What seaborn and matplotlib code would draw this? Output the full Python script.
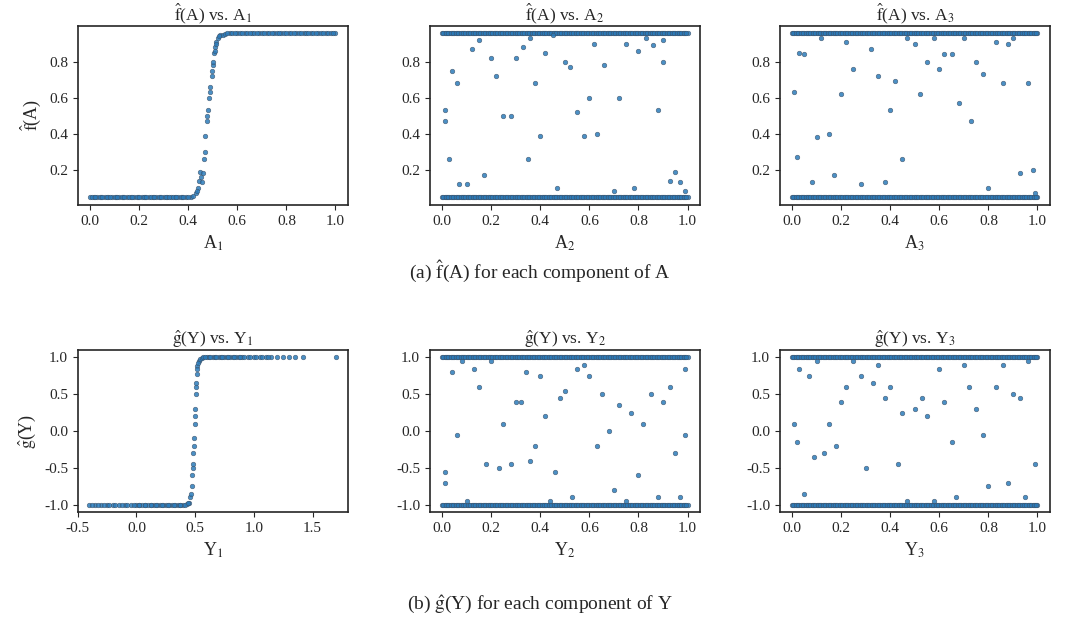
import matplotlib
matplotlib.use("Agg")
import matplotlib.pyplot as plt
import seaborn as sns
import pandas as pd

sns.set_style("ticks")
plt.rcParams['font.family'] = ['Liberation Serif', 'DejaVu Serif']
plt.rcParams['mathtext.fontset'] = 'stix'

band = [0.0,0.02,0.04,0.06,0.08,0.1,0.12,0.14,0.16,0.18,0.2,0.22,0.24,0.26,0.28,0.3,0.32,0.34,0.36,0.38,0.4,
        0.42,0.44,0.46,0.48,0.5,0.52,0.54,0.56,0.58,0.6,0.62,0.64,0.66,0.68,0.7,0.72,0.74,0.76,0.78,0.8,
        0.82,0.84,0.86,0.88,0.9,0.92,0.94,0.96,0.98,1.0,0.01,0.03,0.05,0.07,0.09,0.11,0.13,0.15,0.17,0.19,
        0.21,0.23,0.25,0.27,0.29,0.31,0.33,0.35,0.37,0.39,0.41,0.43,0.45,0.47,0.49,0.51,0.53,0.55,0.57,0.59,
        0.61,0.63,0.65,0.67,0.69,0.71,0.73,0.75,0.77,0.79,0.81,0.83,0.85,0.87,0.89,0.91,0.93,0.95,0.97,0.99,
        0.005,0.015,0.025,0.035,0.045,0.055,0.065,0.075,0.085,0.095,0.105,0.115,0.125,0.135,0.145,0.155,
        0.165,0.175,0.185,0.195,0.205,0.215,0.225,0.235,0.245,0.255,0.265,0.275,0.285,0.295,0.305,0.315,
        0.325,0.335,0.345,0.355,0.365,0.375,0.385,0.395,0.405,0.415,0.425,0.435,0.445,0.455,0.465,0.475,
        0.485,0.495,0.505,0.515,0.525,0.535,0.545,0.555,0.565,0.575,0.585,0.595,0.605,0.615,0.625,0.635,
        0.645,0.655,0.665,0.675,0.685,0.695,0.705,0.715,0.725,0.735,0.745,0.755,0.765,0.775,0.785,0.795,
        0.805,0.815,0.825,0.835,0.845,0.855,0.865,0.875,0.885,0.895,0.905,0.915,0.925,0.935,0.945,0.955,
        0.965,0.975,0.985,0.995]

a1_x = [0.0,0.03,0.06,0.09,0.12,0.15,0.18,0.21,0.24,0.27,0.3,0.33,0.36,0.39,0.41,0.42,0.43,0.44,0.445,0.45,0.455,
        0.46,0.465,0.47,0.475,0.48,0.485,0.49,0.495,0.5,0.505,0.51,0.515,0.52,0.53,0.54,0.55,0.57,0.6,0.63,0.66,
        0.69,0.72,0.75,0.78,0.81,0.84,0.87,0.9,0.93,0.96,1.0,0.015,0.045,0.075,0.105,0.135,0.165,0.195,0.225,0.255,0.285,0.315,0.345,0.375,
        0.01,0.02,0.04,0.05,0.07,0.08,0.1,0.11,0.13,0.14,0.16,0.17,0.19,0.2,0.22,0.23,0.25,0.26,0.28,0.29,0.31,0.32,0.34,0.35,0.37,0.38,0.4,
        0.56,0.58,0.59,0.61,0.62,0.64,0.65,0.67,0.68,0.7,0.71,0.73,0.74,0.76,0.77,0.79,0.8,0.82,0.83,0.85,0.86,0.88,0.89,0.91,0.92,0.94,0.95,0.97,0.98,0.99,
        0.435,0.452,0.468,0.478,0.488,0.498,0.503,0.508,0.512,0.525]
a1_y = [0.05,0.05,0.05,0.05,0.05,0.05,0.05,0.05,0.05,0.05,0.05,0.05,0.05,0.05,0.05,0.055,0.07,0.1,0.14,0.19,0.13,
        0.18,0.26,0.39,0.47,0.53,0.6,0.66,0.72,0.78,0.85,0.88,0.91,0.93,0.945,0.95,0.955,0.96,0.96,0.96,0.96,
        0.96,0.96,0.96,0.96,0.96,0.96,0.96,0.96,0.96,0.96,0.96,0.05,0.05,0.05,0.05,0.05,0.05,0.05,0.05,0.05,0.05,0.05,0.05,0.05,
        0.05,0.05,0.05,0.05,0.05,0.05,0.05,0.05,0.05,0.05,0.05,0.05,0.05,0.05,0.05,0.05,0.05,0.05,0.05,0.05,0.05,0.05,0.05,0.05,0.05,0.05,0.05,
        0.958,0.96,0.96,0.96,0.96,0.96,0.96,0.96,0.96,0.96,0.96,0.96,0.96,0.96,0.96,0.96,0.96,0.96,0.96,0.96,0.96,0.96,0.96,0.96,0.96,0.96,0.96,0.96,0.96,0.96,
        0.08,0.16,0.3,0.5,0.63,0.75,0.8,0.86,0.9,0.94]

a2_sx = [0.01,0.01,0.03,0.04,0.06,0.07,0.1,0.12,0.17,0.2,0.22,0.25,0.28,0.3,0.33,0.35,0.38,0.4,0.42,0.45,0.47,
         0.5,0.52,0.55,0.58,0.6,0.63,0.66,0.7,0.72,0.75,0.78,0.8,0.83,0.86,0.88,0.9,0.93,0.95,0.97,0.99,0.15,0.36,0.62,0.9]
a2_sy = [0.53,0.47,0.26,0.75,0.68,0.12,0.12,0.87,0.17,0.82,0.72,0.5,0.5,0.82,0.88,0.26,0.68,0.39,0.85,0.95,0.1,
         0.8,0.77,0.52,0.39,0.6,0.4,0.78,0.08,0.6,0.9,0.1,0.86,0.93,0.89,0.53,0.8,0.14,0.19,0.13,0.08,0.92,0.93,0.9,0.92]

a3_sx = [0.01,0.02,0.03,0.05,0.08,0.1,0.12,0.15,0.17,0.2,0.22,0.25,0.28,0.32,0.35,0.38,0.4,0.42,0.45,0.47,
         0.5,0.52,0.55,0.58,0.6,0.62,0.65,0.68,0.7,0.73,0.75,0.78,0.8,0.83,0.86,0.88,0.9,0.93,0.96,0.98,0.99]
a3_sy = [0.63,0.27,0.85,0.84,0.13,0.38,0.93,0.4,0.17,0.62,0.91,0.76,0.12,0.87,0.72,0.13,0.53,0.69,0.26,0.93,
         0.9,0.62,0.8,0.93,0.76,0.84,0.84,0.57,0.93,0.47,0.8,0.73,0.1,0.91,0.68,0.9,0.93,0.18,0.68,0.2,0.07]

y1_x = [-0.4,-0.35,-0.3,-0.25,-0.2,-0.15,-0.1,-0.05,0.0,0.05,0.1,0.15,0.2,0.25,0.3,0.35,0.4,0.43,0.45,0.46,0.47,
        0.475,0.48,0.485,0.49,0.495,0.5,0.505,0.51,0.515,0.52,0.53,0.54,0.56,0.6,0.65,0.7,0.75,0.8,0.85,0.9,
        0.95,1.0,1.05,1.1,1.15,1.2,1.25,1.3,1.35,1.42,1.7,0.025,0.075,0.125,0.175,0.225,0.275,0.325,0.375,
        -0.38,-0.33,-0.28,-0.23,-0.18,-0.12,-0.08,-0.02,0.02,0.07,0.12,0.17,0.22,0.27,0.32,0.37,0.41,0.44,
        0.57,0.58,0.62,0.63,0.67,0.68,0.72,0.73,0.77,0.78,0.82,0.83,0.87,0.88,0.92,0.97,1.02,1.07,1.12,
        0.465,0.478,0.488,0.498,0.508,0.518,0.525]
y1_y = [-1.0,-1.0,-1.0,-1.0,-1.0,-1.0,-1.0,-1.0,-1.0,-1.0,-1.0,-1.0,-1.0,-1.0,-1.0,-1.0,-1.0,-0.99,-0.97,-0.9,-0.75,
        -0.6,-0.45,-0.3,-0.1,0.1,0.3,0.5,0.65,0.78,0.88,0.95,0.98,0.99,1.0,1.0,1.0,1.0,1.0,1.0,1.0,
        1.0,1.0,1.0,1.0,1.0,1.0,1.0,1.0,1.0,1.0,1.0,-1.0,-1.0,-1.0,-1.0,-1.0,-1.0,-1.0,-1.0,
        -1.0,-1.0,-1.0,-1.0,-1.0,-1.0,-1.0,-1.0,-1.0,-1.0,-1.0,-1.0,-1.0,-1.0,-1.0,-1.0,-1.0,-0.98,
        1.0,1.0,1.0,1.0,1.0,1.0,1.0,1.0,1.0,1.0,1.0,1.0,1.0,1.0,1.0,1.0,1.0,1.0,1.0,
        -0.85,-0.5,-0.2,0.2,0.6,0.85,0.92]

y2_sx = [0.01,0.01,0.04,0.06,0.08,0.1,0.13,0.15,0.18,0.2,0.23,0.25,0.28,0.3,0.32,0.34,0.36,0.38,0.4,0.42,0.44,
         0.46,0.48,0.5,0.53,0.55,0.58,0.6,0.63,0.65,0.68,0.7,0.72,0.75,0.77,0.8,0.82,0.85,0.88,0.9,0.93,0.95,0.97,0.99,0.99]
y2_sy = [-0.55,-0.7,0.8,-0.05,0.95,-0.95,0.85,0.6,-0.45,0.95,-0.5,0.1,-0.45,0.4,0.4,0.8,-0.4,-0.2,0.75,0.2,-0.95,
         -0.55,0.45,0.55,-0.9,0.85,0.9,0.75,-0.2,0.5,0.0,-0.8,0.35,-0.95,0.25,-0.6,0.1,0.5,-0.9,0.4,0.6,-0.3,-0.9,0.85,-0.05]

y3_sx = [0.01,0.02,0.03,0.05,0.07,0.09,0.1,0.13,0.15,0.18,0.2,0.22,0.25,0.28,0.3,0.33,0.35,0.38,0.4,0.43,0.45,
         0.47,0.5,0.53,0.55,0.58,0.6,0.62,0.65,0.67,0.7,0.72,0.75,0.78,0.8,0.83,0.86,0.88,0.9,0.93,0.95,0.96,0.99]
y3_sy = [0.1,-0.15,0.85,-0.85,0.75,-0.35,0.95,-0.3,0.1,-0.2,0.4,0.6,0.95,0.75,-0.5,0.65,0.9,0.45,0.6,-0.45,0.25,
         -0.95,0.3,0.45,0.2,-0.95,0.85,0.4,-0.15,-0.9,0.9,0.6,0.3,-0.05,-0.75,0.6,0.9,-0.7,0.5,0.45,-0.9,0.95,-0.45]

fig = plt.figure(figsize=(10.8, 6.23), dpi=100)
lefts = [0.072, 0.398, 0.722]
w = 0.25
color = '#2b7bba'
FH = r"$\mathrm{\hat{f}}$(A)"
GH = r"$\mathrm{\hat{g}}$(Y)"

def scat(ax, xs, ys):
    df = pd.DataFrame({'x': xs, 'y': ys})
    sns.scatterplot(data=df, x='x', y='y', ax=ax, s=11, color=color,
                    edgecolor='#3d4f63', linewidth=0.4, alpha=0.85)

def mk(row_bottom, h, i):
    return fig.add_axes([lefts[i], row_bottom, w, h])

lo_a, hi_a = 0.05, 0.96
axs = [mk(0.671, 0.288, i) for i in range(3)]
scat(axs[0], a1_x, a1_y)
scat(axs[1], band + band + a2_sx, [lo_a]*len(band) + [hi_a]*len(band) + a2_sy)
scat(axs[2], band + band + a3_sx, [lo_a]*len(band) + [hi_a]*len(band) + a3_sy)
for i, ax in enumerate(axs):
    ax.set_title(FH + f" vs. A$_{i+1}$", fontsize=12.5, pad=4)
    ax.set_xlabel(f"A$_{i+1}$", fontsize=13)
    ax.set_ylabel(FH if i == 0 else "", fontsize=13)
    ax.set_xticks([0, 0.2, 0.4, 0.6, 0.8, 1.0])
    ax.set_yticks([0.2, 0.4, 0.6, 0.8])
    ax.set_xlim(-0.05, 1.05)
    ax.set_ylim(0.005, 1.0)

axb = [mk(0.178, 0.26, i) for i in range(3)]
scat(axb[0], y1_x, y1_y)
scat(axb[1], band + band + y2_sx, [-1.0]*len(band) + [1.0]*len(band) + y2_sy)
scat(axb[2], band + band + y3_sx, [-1.0]*len(band) + [1.0]*len(band) + y3_sy)
for i, ax in enumerate(axb):
    ax.set_title(GH + f" vs. Y$_{i+1}$", fontsize=12.5, pad=4)
    ax.set_xlabel(f"Y$_{i+1}$", fontsize=13)
    ax.set_ylabel(GH if i == 0 else "", fontsize=13)
    ax.set_yticks([-1.0, -0.5, 0.0, 0.5, 1.0])
    ax.set_ylim(-1.1, 1.1)
    if i == 0:
        ax.set_xticks([-0.5, 0.0, 0.5, 1.0, 1.5])
        ax.set_xlim(-0.5, 1.8)
    else:
        ax.set_xticks([0, 0.2, 0.4, 0.6, 0.8, 1.0])
        ax.set_xlim(-0.05, 1.05)

for ax in axs + axb:
    ax.tick_params(labelsize=11)
    for s in ax.spines.values():
        s.set_visible(True)
        s.set_linewidth(1.2)
    ax.xaxis.set_major_formatter(matplotlib.ticker.FuncFormatter(lambda v, p: f"{v:.1f}"))
    ax.yaxis.set_major_formatter(matplotlib.ticker.FuncFormatter(lambda v, p: f"{v:.1f}"))

fig.text(0.5, 0.563, "(a) " + FH + " for each component of A", ha='center', va='center', fontsize=14)
fig.text(0.5, 0.029, "(b) " + GH + " for each component of Y", ha='center', va='center', fontsize=14)

fig.savefig("out.png", dpi=100)
